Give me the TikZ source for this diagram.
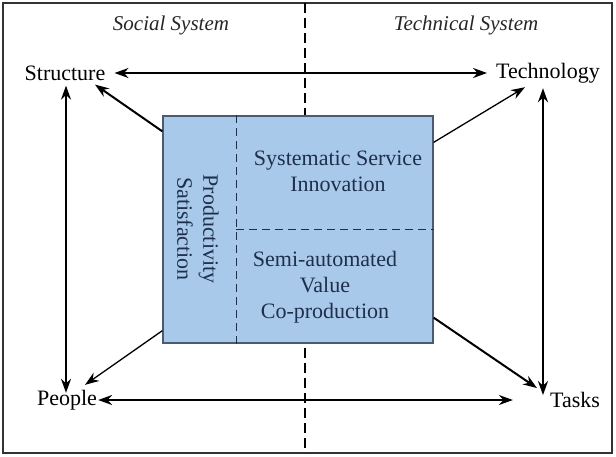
\documentclass[tikz,border=0pt]{standalone}
\usepackage{fontspec}
\setmainfont{Liberation Serif}
\usetikzlibrary{arrows.meta,calc}
\begin{document}
\begin{tikzpicture}[x=1pt,y=-1pt,
  lbl/.style={font=\fontsize{22}{24}\selectfont, inner sep=1pt},
  hdr/.style={font=\fontsize{21}{24}\selectfont\itshape, inner sep=1pt, text=black!85},
  inn/.style={font=\fontsize{22}{26}\selectfont, text=boxtext, align=center, inner sep=0pt},
  arr/.style={line width=2pt, -{Stealth[length=14pt,width=10pt]}},
  darr/.style={line width=2pt, {Stealth[length=14pt,width=10pt]}-{Stealth[length=14pt,width=10pt]}},
  sep/.style={line width=2pt, dash pattern=on 10pt off 5pt}]
\definecolor{boxfill}{HTML}{A9C9EA}
\definecolor{boxtext}{HTML}{1E2F4C}
\definecolor{boxline}{HTML}{4A5A70}
\useasboundingbox (0,0) rectangle (616,456);
\draw[line width=1.5pt, draw=black!80] (3,3) rectangle (612,453);
\coordinate (divtop) at (305,3);
\coordinate (divbot) at (305,453);
\draw[sep] (divtop) -- (divbot);
\node[hdr] (soc) at (171,25) {Social System};
\node[hdr] (tec) at (466,25) {Technical System};
\node[lbl] (Structure) at (65,73) {Structure};
\node[lbl] (Technology) at (548,73) {Technology};
\node[lbl] (People) at (67,400) {People};
\node[lbl] (Tasks) at (575,400) {Tasks};
\node[draw=boxline, line width=1.3pt, fill=boxfill, minimum width=270pt, minimum height=227pt, inner sep=0pt] (box) at (298,229.5) {};
\draw[sep, line width=1.6pt, dash pattern=on 8pt off 5pt, draw=boxtext] ($(box.north west)+(74,0)$) -- ($(box.south west)+(74,0)$);
\draw[sep, line width=1.6pt, dash pattern=on 8pt off 5pt, draw=boxtext] ($(box.west)+(74,0)$) -- (box.east);
\node[inn] (ssi) at (338,171) {Systematic Service\\Innovation};
\node[inn] (sav) at (325,287) {Semi-automated\\Value\\Co-production};
\node[inn, rotate=-90] (ps) at (198,229) {Productivity\\Satisfaction};
\draw[darr] ([xshift=8pt]Structure.east) -- ([xshift=-8pt]Technology.west);
\draw[darr] ([xshift=0pt]People.east) -- ([xshift=-36pt]Tasks.west);
\draw[darr] ([xshift=1pt,yshift=-4pt]Structure.south) -- ([xshift=1pt,yshift=-4pt]Structure.south |- People.north);
\draw[darr] ([xshift=-5pt,yshift=-4pt]Technology.south) -- ([xshift=-5pt,yshift=-4pt]Technology.south |- Tasks.north);
\draw[arr] ($(box.north west)+(0,16)$) -- ([xshift=30pt,yshift=-3pt]Structure.south);
\draw[arr, line width=1.3pt] ($(box.north east)+(0,27)$) -- ([xshift=-23pt,yshift=-3pt]Technology.south);
\draw[arr, line width=1.3pt] ($(box.south west)+(0,-13)$) -- ([xshift=18pt,yshift=4pt]People.north);
\draw[arr] ($(box.south east)+(0,-26)$) -- ([xshift=-38pt,yshift=3pt]Tasks.north);
\end{tikzpicture}
\end{document}
